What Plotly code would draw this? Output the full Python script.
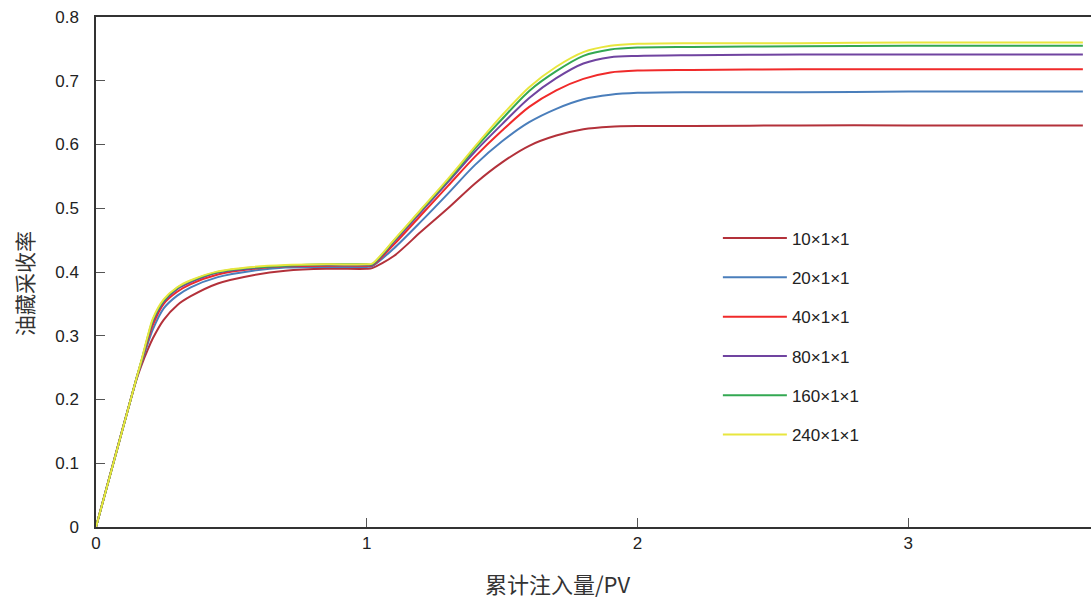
import plotly.graph_objects as go

# Cumulative injected pore volumes (PV)
pv = [0.00, 0.15, 0.17, 0.19, 0.21, 0.25, 0.30, 0.35, 0.45, 0.58, 0.70, 0.85, 1.00, 1.02,
      1.10, 1.20, 1.30, 1.40, 1.50, 1.60, 1.70, 1.80, 1.90, 2.00, 2.20, 2.60, 3.00,
      3.40, 3.645]

# Recovery factor for each grid refinement
rf_10 = [0.000, 0.232, 0.256, 0.277, 0.296, 0.325, 0.348, 0.362, 0.382, 0.395, 0.402, 0.405, 0.405, 0.406,
         0.425, 0.463, 0.500, 0.539, 0.572, 0.598, 0.614, 0.624, 0.628, 0.629, 0.629, 0.630, 0.630,
         0.630, 0.630]
rf_20 = [0.000, 0.233, 0.260, 0.286, 0.310, 0.343, 0.363, 0.376, 0.392, 0.402, 0.407, 0.408, 0.408, 0.409,
         0.437, 0.479, 0.523, 0.568, 0.605, 0.635, 0.656, 0.671, 0.678, 0.681, 0.682, 0.682, 0.683,
         0.683, 0.683]
rf_40 = [0.000, 0.234, 0.262, 0.291, 0.317, 0.350, 0.369, 0.381, 0.396, 0.405, 0.409, 0.410, 0.410, 0.410,
         0.443, 0.489, 0.535, 0.581, 0.622, 0.659, 0.685, 0.703, 0.713, 0.716, 0.717, 0.718, 0.718,
         0.718, 0.718]
rf_80 = [0.000, 0.234, 0.263, 0.294, 0.322, 0.353, 0.373, 0.384, 0.399, 0.406, 0.410, 0.411, 0.411, 0.411,
         0.447, 0.494, 0.541, 0.589, 0.632, 0.673, 0.704, 0.727, 0.737, 0.739, 0.740, 0.741, 0.741,
         0.741, 0.741]
rf_160 = [0.000, 0.234, 0.264, 0.296, 0.325, 0.355, 0.375, 0.386, 0.400, 0.407, 0.410, 0.412, 0.412, 0.412,
          0.449, 0.497, 0.544, 0.594, 0.640, 0.684, 0.715, 0.739, 0.749, 0.752, 0.753, 0.754, 0.755,
          0.755, 0.755]
rf_240 = [0.000, 0.234, 0.265, 0.298, 0.327, 0.357, 0.376, 0.387, 0.401, 0.408, 0.411, 0.412, 0.412, 0.413,
          0.450, 0.498, 0.546, 0.597, 0.646, 0.690, 0.722, 0.745, 0.755, 0.758, 0.759, 0.759, 0.760,
          0.760, 0.760]

labels = ["10×1×1", "20×1×1", "40×1×1", "80×1×1", "160×1×1", "240×1×1"]
series = [rf_10, rf_20, rf_40, rf_80, rf_160, rf_240]
colors = ["#B3313A", "#4A7EBB", "#F02A2A", "#7044A0", "#33A852", "#E8E63E"]

x_ticks = [0, 1, 2, 3]
y_ticks = [0, 0.1, 0.2, 0.3, 0.4, 0.5, 0.6, 0.7, 0.8]
y_tick_text = ["0", "0.1", "0.2", "0.3", "0.4", "0.5", "0.6", "0.7", "0.8"]

FONT = "Liberation Sans, Arial, Noto Sans CJK SC, sans-serif"

fig = go.Figure()
for name, ys, col in zip(labels, series, colors):
    fig.add_trace(go.Scatter(
        x=pv, y=ys, name=name, mode="lines",
        line=dict(color=col, width=2, shape="spline", smoothing=0.8),
        legendgroup=name,
    ))

fig.update_layout(
    width=1091, height=598,
    margin=dict(l=96, r=0, t=17, b=71),
    paper_bgcolor="white", plot_bgcolor="white",
    font=dict(family=FONT, size=17, color="#222"),
    showlegend=True,
    legend=dict(
        x=0.625, y=0.601, xanchor="left", yanchor="top",
        bgcolor="rgba(0,0,0,0)", borderwidth=0,
        font=dict(family=FONT, size=17, color="#222"),
        tracegroupgap=14.2, itemwidth=64,
    ),
    xaxis=dict(
        range=[0, 3.675], tickvals=x_ticks, ticktext=[str(t) for t in x_ticks],
        showgrid=False, zeroline=False,
        showline=True, linecolor="#333", linewidth=1.5, mirror=True,
        ticks="inside", ticklen=9, tickwidth=1, tickcolor="#555",
        tickfont=dict(size=17, color="#222"),
    ),
    yaxis=dict(
        range=[0, 0.8], tickvals=y_ticks, ticktext=y_tick_text,
        showgrid=False, zeroline=False,
        showline=True, linecolor="#333", linewidth=1.5,
        ticks="inside", ticklen=9, tickwidth=1, tickcolor="#555",
        tickfont=dict(size=17, color="#222"),
        ticklabelstandoff=12,
    ),
    annotations=[
        dict(text="累计注入量/PV", xref="paper", yref="paper",
             x=(558 - 96) / 995, y=-(583 - 527) / 510, xanchor="center", yanchor="middle",
             showarrow=False, font=dict(family="Noto Sans CJK SC, Liberation Sans", size=22, color="#333")),
        dict(text="油藏采收率", xref="paper", yref="paper",
             x=-(96 - 24) / 995, y=(527 - 284) / 510, xanchor="center", yanchor="middle",
             textangle=-90, showarrow=False,
             font=dict(family="Noto Sans CJK SC, Liberation Sans", size=21, color="#333")),
    ],
)

fig.write_html("out.html")
